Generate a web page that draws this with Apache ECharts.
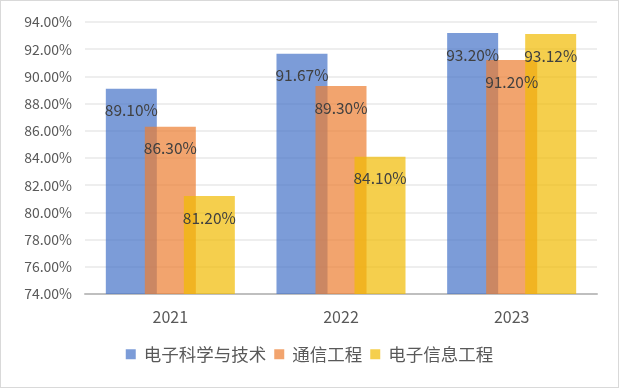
<!DOCTYPE html>
<html><head><meta charset="utf-8">
<script src="https://cdn.jsdelivr.net/npm/echarts@6/dist/echarts.min.js"></script>
<style>html,body{margin:0;padding:0;background:#fff}#c{width:617px;height:386px;border:1px solid #d9d9d9}</style>
</head><body><div id="c"></div>
<script>
const categories = ['2021', '2022', '2023'];
const seriesNames = ['电子科学与技术', '通信工程', '电子信息工程'];
const dianziKexue = [89.10, 91.67, 93.20];
const tongxin = [86.30, 89.30, 91.20];
const dianziXinxi = [81.20, 84.10, 93.12];
const yMin = 74, yMax = 94, yStep = 2;

const colors = ['rgba(68,114,200,0.7)', 'rgba(237,125,49,0.7)', 'rgba(241,187,2,0.7)'];
const font = '"Noto Sans CJK SC", "Noto Sans", sans-serif';
const chart = echarts.init(document.getElementById('c'));
function mk(name, data, i) {
  return {
    name, type: 'bar', data, barWidth: 51, barGap: '-23.5%',
    itemStyle: { color: colors[i] },
    label: { show: true, position: 'insideTop', distance: 14, color: '#404040', fontSize: 15.5, fontFamily: font,
      formatter: p => p.value.toFixed(2) + '%' }
  };
}
chart.setOption({
  animation: false,
  grid: { left: 84, right: 21, top: 21, bottom: 93, containLabel: false },
  legend: { bottom: 19, left: 'center', itemWidth: 10, itemHeight: 10, itemGap: 8, icon: 'rect',
    textStyle: { color: '#595959', fontSize: 17.5, fontFamily: font, padding: [0, 0, 0, 3] } },
  xAxis: { type: 'category', data: categories,
    axisLine: { lineStyle: { color: '#bfbfbf', width: 2 } }, axisTick: { show: false },
    axisLabel: { color: '#595959', fontSize: 16, fontFamily: font, margin: 15 } },
  yAxis: { type: 'value', min: yMin, max: yMax, interval: yStep,
    axisLine: { show: false }, axisTick: { show: false },
    splitLine: { lineStyle: { color: '#e8e8e8', width: 1.5 } },
    axisLabel: { color: '#595959', fontSize: 14, fontFamily: font, margin: 13, formatter: v => v.toFixed(2) + '%' } },
  series: [mk(seriesNames[0], dianziKexue, 0), mk(seriesNames[1], tongxin, 1), mk(seriesNames[2], dianziXinxi, 2)]
});
</script></body></html>
